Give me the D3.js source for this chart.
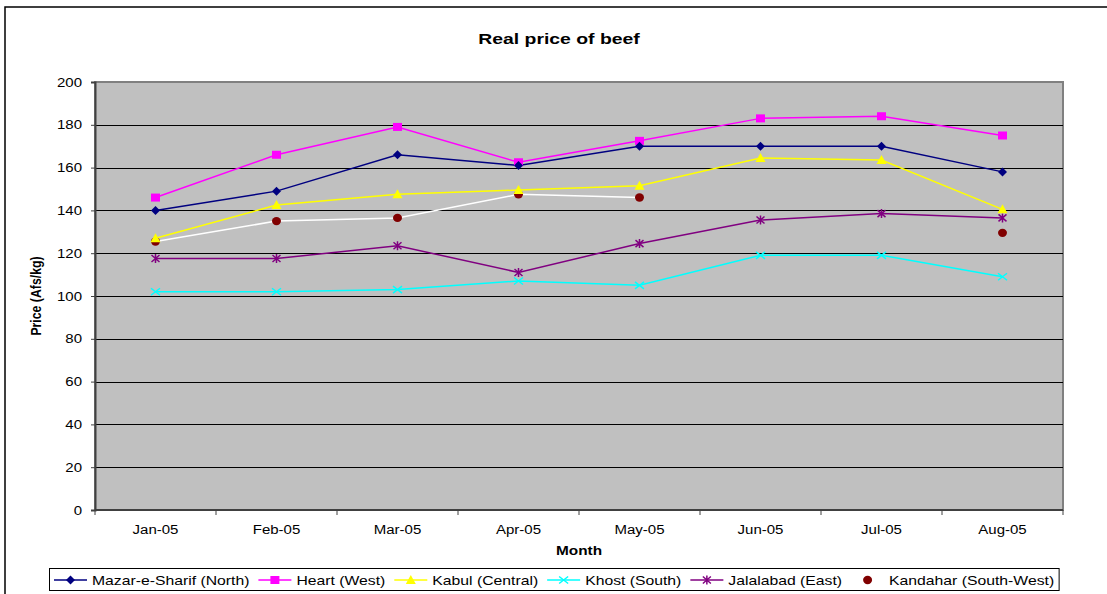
<!DOCTYPE html>
<html>
<head>
<meta charset="utf-8">
<script src="https://cdn.jsdelivr.net/npm/d3@7"></script>
<style>
  html, body { margin: 0; padding: 0; background: #fff; overflow: hidden; }
  text { font-family: "Liberation Sans", Arial, sans-serif; fill: #000; }
</style>
</head>
<body>
<svg id="chart" width="1107" height="594"></svg>
<script>
// ---- data ----
const months = ["Jan-05", "Feb-05", "Mar-05", "Apr-05", "May-05", "Jun-05", "Jul-05", "Aug-05"];
const mazar = [140, 149, 166, 161, 170, 170, 170, 158];
const heart = [146, 166, 179, 162.5, 172.5, 183, 184, 175];
const kabul = [127, 142.5, 147.5, 149.5, 151.5, 164.5, 163.5, 140.5];
const khost = [102, 102, 103, 107, 105, 119, 119, 109];
const jalalabad = [117.5, 117.5, 123.5, 111, 124.5, 135.5, 138.5, 136.5];
const kandahar = [125.5, 135, 136.5, 147.5, 146, null, null, 129.5];
const yTicks = [0, 20, 40, 60, 80, 100, 120, 140, 160, 180, 200];
const seriesNames = ["Mazar-e-Sharif (North)", "Heart (West)", "Kabul (Central)", "Khost (South)", "Jalalabad (East)", "Kandahar (South-West)"];

const series = [
  { name: seriesNames[0], values: mazar, color: "#000080", marker: "diamond", line: true },
  { name: seriesNames[1], values: heart, color: "#ff00ff", marker: "square", line: true },
  { name: seriesNames[2], values: kabul, color: "#ffff00", marker: "triangle", line: true },
  { name: seriesNames[3], values: khost, color: "#00ffff", marker: "x", line: true },
  { name: seriesNames[4], values: jalalabad, color: "#800080", marker: "star", line: true },
  { name: seriesNames[5], values: kandahar, color: "#800000", marker: "circle", line: true, lineColor: "#ffffff", legendLine: false }
];

// ---- layout ----
const SX = 1.25; // horizontal stretch of text in the original
const plot = { left: 95, top: 82, right: 1063, bottom: 510 };
const svg = d3.select("#chart");

function txt(g, x, y, s, opts = {}) {
  const t = g.append("text")
    .attr("transform", `translate(${x},${y}) ${opts.rotate ? "rotate(-90)" : ""} scale(${opts.rotate ? 1 : SX},${opts.rotate ? SX : 1})`)
    .attr("text-anchor", opts.anchor || "start")
    .style("font-size", (opts.size || 12) + "px")
    .style("font-weight", opts.bold ? "bold" : "normal")
    .text(s);
  return t;
}

// outer border
svg.append("rect").attr("x", 5).attr("y", 7).attr("width", 1130).attr("height", 620)
  .attr("fill", "#fff").attr("stroke", "#000").attr("stroke-width", 1.5);

const x = d3.scaleBand().domain(months).range([plot.left, plot.right]).padding(0);
const y = d3.scaleLinear().domain([0, 200]).range([plot.bottom, plot.top]);

// plot background
svg.append("rect").attr("x", plot.left).attr("y", plot.top)
  .attr("width", plot.right - plot.left).attr("height", plot.bottom - plot.top)
  .attr("fill", "#c0c0c0").attr("stroke", "#808080").attr("stroke-width", 2);

// gridlines
svg.append("g").selectAll("line").data(yTicks.filter(d => d > 0 && d < 200)).join("line")
  .attr("x1", plot.left).attr("x2", plot.right)
  .attr("y1", d => Math.round(y(d)) + 0.5).attr("y2", d => Math.round(y(d)) + 0.5)
  .attr("stroke", "#000").attr("stroke-width", 1);

// y axis
const yAxis = svg.append("g").attr("transform", `translate(${plot.left},0)`)
  .call(d3.axisLeft(y).tickValues(yTicks).tickSize(4).tickFormat(""));
yAxis.select(".domain").attr("stroke", "#404040").attr("stroke-width", 2);
yAxis.selectAll(".tick line").attr("stroke", "#404040");
yTicks.forEach(v => txt(svg, 82, y(v) + 4.5, String(v), { anchor: "end", size: 12 }));

// x axis
const boundaries = d3.range(months.length + 1).map(i => plot.left + i * x.bandwidth());
const xAxis = svg.append("g").attr("transform", `translate(0,${plot.bottom})`);
xAxis.append("line").attr("x1", plot.left).attr("x2", plot.right).attr("y1", 0).attr("y2", 0)
  .attr("stroke", "#404040").attr("stroke-width", 2);
xAxis.selectAll("line.tk").data(boundaries).join("line").attr("class", "tk")
  .attr("x1", d => d).attr("x2", d => d).attr("y1", 0).attr("y2", 5)
  .attr("stroke", "#404040").attr("stroke-width", 1);
months.forEach(m => txt(svg, x(m) + x.bandwidth() / 2, 534, m, { anchor: "middle", size: 12 }));

// titles
txt(svg, 559, 44, "Real price of beef", { anchor: "middle", size: 15.5, bold: true });
txt(svg, 579, 555, "Month", { anchor: "middle", size: 12.3, bold: true });
txt(svg, 41, 296, "Price (Afs/kg)", { anchor: "middle", size: 12.3, bold: true, rotate: true });

// markers
function drawMarker(g, type, cx, cy, color) {
  if (type === "diamond") {
    g.append("path").attr("d", `M${cx},${cy - 4.5}L${cx + 4.5},${cy}L${cx},${cy + 4.5}L${cx - 4.5},${cy}Z`).attr("fill", color);
  } else if (type === "square") {
    g.append("rect").attr("x", cx - 4.5).attr("y", cy - 4).attr("width", 9).attr("height", 8).attr("fill", color);
  } else if (type === "triangle") {
    g.append("path").attr("d", `M${cx},${cy - 5}L${cx + 5},${cy + 4}L${cx - 5},${cy + 4}Z`).attr("fill", color);
  } else if (type === "x") {
    g.append("path").attr("d", `M${cx - 4.5},${cy - 3.5}L${cx + 4.5},${cy + 3.5}M${cx - 4.5},${cy + 3.5}L${cx + 4.5},${cy - 3.5}`)
      .attr("stroke", color).attr("stroke-width", 1.5).attr("fill", "none");
  } else if (type === "star") {
    g.append("path").attr("d", `M${cx - 4},${cy - 3.5}L${cx + 4},${cy + 3.5}M${cx - 4},${cy + 3.5}L${cx + 4},${cy - 3.5}M${cx},${cy - 4.5}L${cx},${cy + 4.5}`)
      .attr("stroke", color).attr("stroke-width", 1.5).attr("fill", "none");
  } else if (type === "circle") {
    g.append("ellipse").attr("cx", cx).attr("cy", cy).attr("rx", 4.5).attr("ry", 4.2).attr("fill", color);
  }
}

// lines & markers (draw in reverse so the first series is on top)
const cxOf = m => x(m) + x.bandwidth() / 2;
const lineGen = d3.line().defined(d => d.v != null).x(d => cxOf(d.m)).y(d => y(d.v));
const seriesG = svg.append("g");
series.slice().reverse().forEach(s => {
  const pts = months.map((m, i) => ({ m, v: s.values[i] }));
  seriesG.append("path").datum(pts).attr("d", lineGen)
    .attr("fill", "none").attr("stroke", s.lineColor || s.color).attr("stroke-width", 1.5);
});
series.slice().reverse().forEach(s => {
  const g = seriesG.append("g");
  months.forEach((m, i) => { if (s.values[i] != null) drawMarker(g, s.marker, cxOf(m), y(s.values[i]), s.color); });
});

// legend
const lg = svg.append("g");
const lgBox = lg.append("rect").attr("y", 568.5).attr("height", 22).attr("fill", "#fff").attr("stroke", "#000").attr("stroke-width", 1);
let cur = 54;
const lgY = 580;
series.forEach((s, i) => {
  const g = lg.append("g");
  if (s.legendLine !== false) {
    g.append("line").attr("x1", cur).attr("x2", cur + 33).attr("y1", lgY).attr("y2", lgY).attr("stroke", s.color).attr("stroke-width", 1.5);
  }
  drawMarker(g, s.marker, cur + 16.5, lgY, s.color);
  const t = txt(g, cur + 38, lgY + 4.5, s.name, { size: 12.6 });
  const w = t.node().getComputedTextLength() * SX;
  cur = cur + 38 + w + 9;
});
lgBox.attr("x", 49.5).attr("width", cur - 4 - 49.5);
</script>
</body>
</html>
